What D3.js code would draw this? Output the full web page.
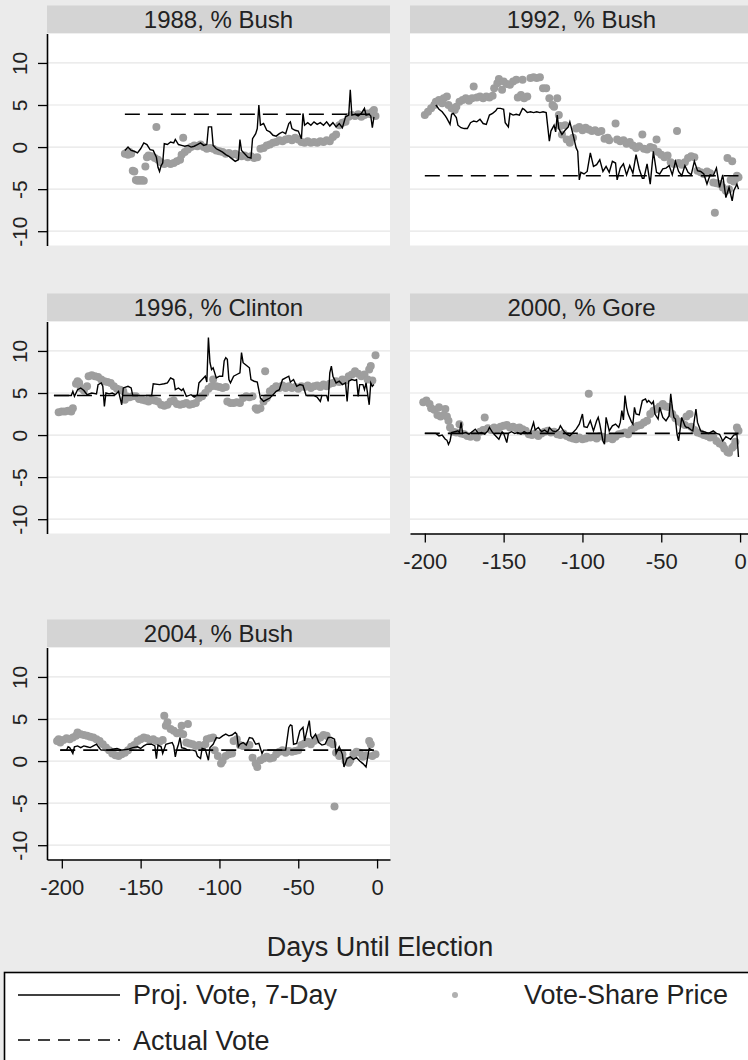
<!DOCTYPE html>
<meta charset="utf-8">
<script src="https://d3js.org/d3.v7.min.js"></script>
<style>
  body { margin: 0; background: #eaeaea; }
  svg { display: block; font-family: "Liberation Sans", Arial, sans-serif; }
</style>
<body>
<div id="chart"></div>
<script>
  // panel titles, actual vote (two-party share minus 50) and the days it spans
  var panelTitles = ["1988, % Bush", "1992, % Bush", "1996, % Clinton", "2000, % Gore", "2004, % Bush"];
  var actualVote = [3.9, -3.4, 4.7, 0.2, 1.3];
  var actualSpan = [[-160, -2], [-200, -1], [-205, -2], [-200, -1], [-201, -2]];
  var xTicks = [-200, -150, -100, -50, 0];
  var yTicks = [-10, -5, 0, 5, 10];

  // [day, value] : projected vote, 7-day
  var proj1988 = [[-160,-0.4],[-158,0.0],[-156,-0.4],[-154,-0.5],[-152,-0.7],[-150,-0.2],[-148,0.5],[-146,0.3],[-144,-0.3],[-142,-0.4],[-140,-1.2],[-139,-2.4],[-138,-2.9],[-137,-2.2],[-136,-1.9],[-135,0.4],[-133,0.3],[-131,0.6],[-129,0.5],[-128,0.9],[-126,0.3],[-124,0.2],[-122,0.1],[-120,0.2],[-118,0.0],[-116,0.1],[-114,0.3],[-112,0.5],[-110,0.2],[-108,0.3],[-107,2.4],[-105,2.4],[-104,0.2],[-102,-0.2],[-100,-0.4],[-98,-0.6],[-96,-0.9],[-94,-1.1],[-92,-1.4],[-90,-1.7],[-88,-1.5],[-87,0.9],[-86,-0.4],[-84,-0.8],[-82,-1.2],[-80,-1.3],[-79,1.0],[-77,1.6],[-76,2.2],[-75,5.0],[-74,2.6],[-72,2.8],[-70,2.0],[-68,1.8],[-66,1.4],[-64,1.3],[-62,1.6],[-60,1.8],[-58,1.6],[-56,2.8],[-55,3.0],[-54,2.2],[-52,2.0],[-50,1.9],[-48,1.0],[-47,4.0],[-46,2.6],[-44,2.9],[-42,2.6],[-40,3.0],[-38,2.7],[-36,2.9],[-34,2.6],[-32,3.0],[-30,2.5],[-28,2.9],[-26,2.4],[-24,2.8],[-22,2.3],[-20,3.6],[-18,3.8],[-17,6.8],[-16,3.8],[-14,3.9],[-12,3.7],[-10,4.0],[-8,4.6],[-7,3.8],[-5,3.9],[-4,3.7],[-3,2.3],[-2,3.6]];
  var proj1992 = [[-193,5.0],[-191,4.5],[-189,4.2],[-187,3.7],[-186,3.4],[-184,2.7],[-183,3.9],[-182,4.0],[-180,3.5],[-179,2.6],[-177,2.3],[-175,2.2],[-173,2.2],[-171,2.9],[-169,3.1],[-167,3.0],[-165,3.3],[-163,2.8],[-161,2.7],[-159,3.8],[-157,4.0],[-155,4.3],[-154,4.6],[-152,4.6],[-150,4.5],[-149,2.9],[-147,2.4],[-146,4.0],[-144,3.8],[-142,3.9],[-140,3.8],[-138,4.6],[-137,4.5],[-135,4.1],[-133,4.2],[-131,4.1],[-129,4.2],[-127,4.1],[-125,4.2],[-123,4.1],[-121,0.7],[-120,1.9],[-118,2.6],[-117,1.8],[-116,3.8],[-115,2.2],[-113,1.5],[-111,2.0],[-109,2.4],[-108,3.0],[-106,1.5],[-104,-0.1],[-103,-0.5],[-102,-3.9],[-101,-3.0],[-99,-3.2],[-97,-2.9],[-95,-0.7],[-93,-2.3],[-91,-2.1],[-89,-1.5],[-87,-2.9],[-85,-2.3],[-83,-3.0],[-81,-1.7],[-79,-1.9],[-78,-3.9],[-76,-2.5],[-74,-2.0],[-72,-3.3],[-70,-2.2],[-68,-3.1],[-66,-0.9],[-64,-2.6],[-62,-3.7],[-61,-3.7],[-59,-2.0],[-57,-4.4],[-55,-0.5],[-53,-3.0],[-51,-3.2],[-49,-2.6],[-47,-2.5],[-45,-2.2],[-43,-3.3],[-41,-1.7],[-39,-2.9],[-37,-3.4],[-35,-2.2],[-33,-3.0],[-31,-3.3],[-29,-1.7],[-27,-2.8],[-25,-2.9],[-23,-3.2],[-21,-4.4],[-19,-3.3],[-17,-3.4],[-15,-2.5],[-13,-4.8],[-11,-3.3],[-9,-6.0],[-7,-4.8],[-5,-6.4],[-4,-5.2],[-2,-4.4],[-1,-5.0]];
  var proj1996 = [[-205,4.7],[-194,4.7],[-193,5.2],[-192,4.6],[-190,5.4],[-188,5.6],[-186,5.3],[-184,4.8],[-181,5.0],[-178,4.9],[-177,6.0],[-175,6.2],[-174,5.8],[-173,3.4],[-172,5.0],[-170,4.9],[-168,5.0],[-166,4.8],[-164,5.2],[-162,3.6],[-161,5.6],[-158,5.8],[-156,5.6],[-155,4.7],[-143,4.7],[-142,6.1],[-138,6.0],[-135,6.1],[-133,6.2],[-131,6.8],[-129,6.6],[-128,5.4],[-126,5.6],[-124,5.3],[-123,5.5],[-121,4.6],[-118,4.8],[-116,4.5],[-114,4.8],[-113,6.2],[-111,6.6],[-109,7.0],[-108,6.3],[-107,11.6],[-106,8.6],[-105,7.8],[-104,8.0],[-102,6.8],[-100,7.0],[-98,7.0],[-97,8.8],[-96,9.2],[-95,9.0],[-94,6.6],[-93,6.2],[-91,7.0],[-89,7.2],[-87,7.4],[-86,9.8],[-85,8.6],[-83,8.3],[-81,8.0],[-80,6.6],[-78,6.4],[-76,6.3],[-74,4.4],[-72,4.0],[-70,4.2],[-68,4.4],[-66,4.8],[-64,5.2],[-62,5.4],[-60,6.6],[-58,6.8],[-56,7.0],[-55,6.3],[-53,6.6],[-51,5.8],[-49,6.0],[-47,5.9],[-45,4.7],[-40,4.7],[-38,4.5],[-36,4.0],[-35,4.7],[-32,4.7],[-31,4.0],[-30,7.4],[-29,8.2],[-28,7.0],[-26,6.2],[-24,6.4],[-22,6.0],[-20,6.2],[-19,4.0],[-18,6.4],[-16,6.6],[-14,6.5],[-13,6.6],[-12,4.6],[-11,6.0],[-9,6.0],[-8,5.4],[-7,6.2],[-5,3.6],[-4,6.2],[-3,5.8],[-2,6.0]];
  var proj2000 = [[-200,0.2],[-193,0.2],[-191,-0.1],[-189,0.0],[-187,-0.5],[-186,-0.6],[-185,-1.1],[-184,-0.7],[-183,0.3],[-181,0.4],[-179,0.5],[-178,0.3],[-177,1.5],[-176,0.2],[-174,0.3],[-172,0.1],[-170,0.4],[-168,0.7],[-166,0.2],[-164,0.3],[-162,0.1],[-160,0.5],[-159,0.9],[-157,0.3],[-155,-0.1],[-153,-0.5],[-151,0.4],[-150,0.2],[-148,-0.9],[-147,0.2],[-145,0.4],[-143,0.2],[-141,0.3],[-139,0.1],[-137,0.4],[-135,0.2],[-133,0.3],[-131,1.5],[-130,0.6],[-128,0.9],[-126,0.4],[-124,0.6],[-122,0.3],[-121,0.9],[-119,0.5],[-117,0.4],[-115,0.7],[-114,1.1],[-112,0.5],[-110,0.1],[-108,-0.1],[-106,0.3],[-104,0.7],[-102,1.3],[-100,2.5],[-99,1.0],[-97,0.9],[-95,1.7],[-93,0.5],[-91,1.7],[-90,2.1],[-89,1.3],[-87,-0.7],[-86,-1.1],[-85,2.1],[-83,0.5],[-81,1.1],[-79,1.3],[-77,0.9],[-76,1.5],[-75,2.9],[-74,1.8],[-73,4.7],[-72,3.3],[-71,2.5],[-69,1.6],[-68,1.3],[-67,3.3],[-66,2.5],[-64,2.4],[-62,4.1],[-60,4.3],[-59,3.9],[-58,4.1],[-56,3.7],[-55,4.0],[-54,2.5],[-52,1.9],[-51,3.3],[-49,2.1],[-47,1.7],[-45,2.3],[-44,4.9],[-43,3.3],[-42,2.1],[-41,1.9],[-40,0.1],[-39,-0.7],[-37,2.1],[-35,1.1],[-34,0.9],[-33,0.9],[-31,0.6],[-30,0.5],[-28,3.1],[-27,1.5],[-25,0.5],[-23,0.4],[-20,0.2],[-17,0.5],[-15,0.2],[-13,0.1],[-11,-0.7],[-9,-0.2],[-6,-0.5],[-4,0.0],[-2,0.1],[-1,-2.6]];
  var proj2004 = [[-201,1.3],[-197,1.3],[-196,1.7],[-195,1.6],[-193,0.9],[-192,1.7],[-190,1.8],[-188,1.6],[-186,1.8],[-184,1.7],[-182,1.6],[-180,1.8],[-178,2.0],[-176,1.5],[-175,1.3],[-170,1.3],[-168,1.4],[-165,1.5],[-162,1.3],[-158,1.4],[-155,1.6],[-152,1.7],[-150,1.5],[-148,1.8],[-146,2.0],[-143,2.0],[-141,1.8],[-140,0.3],[-139,1.9],[-137,1.7],[-136,0.9],[-134,2.0],[-132,2.1],[-130,2.2],[-129,1.8],[-128,0.5],[-127,1.4],[-126,2.0],[-125,2.8],[-124,1.6],[-122,1.5],[-120,1.3],[-117,1.3],[-115,1.2],[-114,0.6],[-112,0.3],[-111,1.5],[-109,1.4],[-107,0.1],[-106,1.6],[-104,2.0],[-102,2.8],[-100,2.7],[-98,3.0],[-96,3.2],[-94,3.0],[-92,3.1],[-90,3.4],[-89,3.2],[-88,1.7],[-87,2.0],[-85,2.2],[-83,1.9],[-81,2.8],[-79,2.7],[-77,2.0],[-75,2.1],[-73,0.9],[-72,1.3],[-58,1.3],[-56,4.0],[-55,4.3],[-54,4.2],[-53,2.0],[-51,2.1],[-49,3.6],[-48,3.8],[-47,4.0],[-46,2.4],[-45,3.2],[-43,4.8],[-42,3.0],[-41,2.7],[-39,3.2],[-37,2.2],[-35,1.9],[-33,2.0],[-31,2.8],[-29,2.8],[-27,2.6],[-26,0.9],[-24,1.7],[-22,0.8],[-21,-0.7],[-19,0.3],[-17,0.5],[-15,0.2],[-13,0.4],[-11,0.0],[-9,-0.3],[-7,-0.7],[-5,1.5],[-3,1.3]];

  // [day, value] : vote-share price
  var price1988 = [[-160,-0.8],[-159,-0.7],[-158,-0.9],[-157,-0.6],[-156,-0.8],[-155,-2.8],[-154,-2.9],[-153,-3.9],[-152,-4.0],[-151,-3.9],[-150,-4.0],[-149,-3.9],[-148,-4.0],[-147,-2.3],[-146,-1.2],[-145,-1.0],[-143,-1.1],[-141,-1.3],[-140,2.4],[-139,-1.5],[-137,-1.8],[-135,-2.0],[-133,-1.9],[-131,-2.0],[-129,-1.9],[-127,-1.7],[-125,-1.5],[-124,-0.9],[-123,1.1],[-122,-0.6],[-120,-0.3],[-118,0.0],[-116,0.2],[-114,0.1],[-112,0.3],[-110,0.0],[-108,-0.2],[-106,-0.1],[-104,-0.2],[-102,-0.4],[-100,-0.5],[-98,-0.6],[-96,-0.8],[-94,-0.7],[-92,-0.9],[-90,-0.8],[-88,-1.0],[-86,-1.1],[-84,-1.0],[-82,-1.2],[-80,-1.1],[-78,-1.3],[-76,-1.2],[-74,-0.2],[-72,-0.1],[-70,0.2],[-68,0.3],[-66,0.5],[-64,0.6],[-62,0.8],[-60,0.7],[-58,0.9],[-56,1.0],[-54,0.8],[-52,1.1],[-50,0.9],[-48,0.6],[-46,0.5],[-44,0.7],[-42,0.5],[-40,0.6],[-38,0.5],[-36,0.7],[-34,0.6],[-32,0.8],[-30,0.7],[-28,1.2],[-26,1.5],[-24,2.6],[-22,2.9],[-20,3.0],[-18,3.6],[-16,3.8],[-14,3.7],[-12,3.9],[-10,3.6],[-8,3.8],[-6,4.0],[-4,3.9],[-3,4.2],[-2,4.4],[-1,3.7]];
  var price1992 = [[-200,3.8],[-198,4.2],[-196,4.6],[-194,5.0],[-193,5.4],[-191,5.6],[-189,5.2],[-188,5.8],[-186,6.0],[-185,5.0],[-183,4.6],[-181,4.4],[-180,4.8],[-178,5.4],[-176,5.6],[-174,5.8],[-172,5.5],[-170,5.8],[-169,7.2],[-167,5.9],[-165,6.0],[-163,5.8],[-161,6.0],[-159,5.9],[-157,6.1],[-156,7.0],[-154,7.6],[-153,8.1],[-151,6.8],[-150,7.8],[-148,7.5],[-146,7.4],[-144,7.8],[-142,8.0],[-141,5.9],[-139,6.2],[-138,8.0],[-137,5.8],[-135,6.0],[-133,8.2],[-131,8.3],[-129,8.2],[-127,8.3],[-125,7.0],[-123,7.0],[-121,5.8],[-119,5.0],[-118,4.8],[-116,5.8],[-115,3.8],[-114,2.5],[-113,1.5],[-111,2.6],[-110,0.9],[-108,0.5],[-106,1.1],[-104,2.2],[-102,2.4],[-100,2.0],[-98,2.3],[-96,2.1],[-94,1.9],[-92,2.0],[-90,1.8],[-88,1.9],[-86,1.0],[-84,1.1],[-83,0.8],[-79,2.8],[-78,0.9],[-76,0.7],[-74,0.8],[-72,0.4],[-70,0.6],[-68,0.2],[-66,-0.1],[-64,0.1],[-62,1.5],[-61,-0.2],[-59,-0.3],[-57,0.0],[-55,-0.1],[-53,0.9],[-52,-0.6],[-50,-0.9],[-48,-1.2],[-46,-1.0],[-44,-1.8],[-42,-2.0],[-40,1.9],[-39,-1.9],[-37,-2.1],[-35,-1.8],[-33,-1.3],[-31,-1.1],[-29,-1.2],[-27,-2.8],[-25,-3.0],[-23,-3.2],[-21,-2.9],[-19,-3.1],[-17,-4.2],[-16,-7.8],[-15,-4.3],[-13,-4.4],[-11,-4.8],[-9,-5.2],[-8,-1.3],[-7,-5.0],[-6,-3.9],[-5,-1.7],[-4,-4.1],[-3,-3.8],[-2,-3.4],[-1,-3.6]];
  var price1996 = [[-202,2.7],[-200,2.8],[-198,2.8],[-196,2.9],[-194,2.8],[-193,3.2],[-191,6.1],[-190,6.4],[-189,6.2],[-188,5.6],[-186,5.3],[-184,5.8],[-183,7.0],[-181,7.1],[-179,7.0],[-177,6.9],[-175,6.6],[-173,6.4],[-171,6.3],[-169,6.2],[-167,5.8],[-165,5.5],[-163,5.4],[-161,5.2],[-160,4.2],[-159,4.6],[-157,4.5],[-155,4.6],[-153,4.6],[-151,4.3],[-149,4.2],[-147,4.1],[-145,4.0],[-143,4.2],[-141,4.1],[-139,4.0],[-137,3.6],[-135,3.5],[-133,3.6],[-131,4.0],[-129,4.1],[-127,3.7],[-125,3.6],[-123,3.7],[-121,3.8],[-119,3.6],[-117,3.7],[-115,3.8],[-113,4.4],[-111,4.6],[-109,5.0],[-107,5.5],[-105,5.8],[-104,6.6],[-102,5.8],[-100,5.7],[-98,5.6],[-96,5.7],[-95,4.0],[-93,3.8],[-91,3.8],[-89,3.9],[-87,3.8],[-85,4.4],[-83,4.6],[-81,4.5],[-79,4.6],[-77,3.2],[-76,3.0],[-74,3.2],[-72,4.0],[-71,7.6],[-70,4.4],[-68,5.2],[-66,5.5],[-64,5.8],[-62,5.6],[-60,5.9],[-58,5.6],[-56,5.8],[-54,5.6],[-52,5.7],[-50,5.5],[-48,5.8],[-46,5.7],[-44,5.9],[-42,5.6],[-40,5.8],[-38,5.9],[-36,5.7],[-34,6.0],[-32,5.8],[-30,6.1],[-28,6.2],[-26,6.4],[-24,6.3],[-22,6.6],[-20,6.5],[-18,7.0],[-16,7.2],[-14,7.6],[-12,7.3],[-10,7.0],[-8,7.2],[-6,6.6],[-5,7.8],[-4,8.2],[-3,6.5],[-1,9.5]];
  var price2000 = [[-201,3.9],[-199,4.1],[-197,3.7],[-196,3.2],[-194,3.0],[-192,2.4],[-191,3.3],[-190,2.2],[-188,2.4],[-187,3.1],[-186,2.2],[-185,1.7],[-184,0.9],[-182,0.4],[-180,0.3],[-178,1.3],[-177,0.2],[-175,0.1],[-173,-0.1],[-171,-0.2],[-169,0.0],[-167,-0.3],[-165,0.4],[-163,0.6],[-162,2.1],[-160,0.8],[-158,0.6],[-156,0.9],[-154,0.7],[-152,1.0],[-150,1.1],[-148,1.2],[-146,0.9],[-144,1.0],[-142,0.8],[-140,0.9],[-138,0.7],[-136,0.5],[-134,0.1],[-132,0.0],[-130,0.2],[-128,-0.1],[-126,0.2],[-124,0.4],[-122,0.5],[-120,0.3],[-118,0.4],[-116,0.1],[-114,0.0],[-112,0.2],[-110,-0.1],[-108,-0.3],[-106,-0.4],[-104,-0.5],[-102,-0.3],[-100,-0.5],[-98,-0.4],[-96,4.9],[-95,-0.3],[-93,-0.2],[-91,-0.4],[-89,-0.1],[-87,-0.2],[-85,-0.4],[-83,-0.3],[-81,-0.5],[-79,-0.2],[-77,0.1],[-75,0.2],[-73,0.3],[-71,0.1],[-69,0.6],[-67,0.9],[-65,1.1],[-63,1.2],[-61,1.5],[-59,1.7],[-57,2.5],[-55,2.9],[-53,3.1],[-51,3.4],[-49,3.7],[-47,3.4],[-45,3.3],[-43,2.5],[-41,2.0],[-39,1.6],[-37,1.4],[-35,1.2],[-34,2.2],[-32,2.5],[-31,1.0],[-29,0.6],[-27,0.3],[-25,0.2],[-23,0.0],[-21,-0.1],[-19,-0.3],[-17,-0.2],[-15,-0.7],[-13,-1.0],[-11,-1.2],[-10,-1.6],[-8,-2.0],[-7,-2.1],[-5,-1.5],[-4,-1.3],[-3,-0.8],[-2,0.9],[-1,0.5]];
  var price2004 = [[-203,2.4],[-202,2.6],[-201,2.2],[-199,2.5],[-197,2.7],[-195,2.6],[-193,2.8],[-191,3.0],[-190,3.4],[-188,3.2],[-186,3.1],[-184,3.0],[-182,2.9],[-180,2.8],[-178,2.6],[-176,2.4],[-174,2.0],[-172,1.6],[-170,1.3],[-168,0.9],[-166,0.7],[-164,0.6],[-162,0.8],[-160,1.0],[-158,1.3],[-156,1.7],[-154,1.9],[-152,2.4],[-150,2.6],[-148,2.8],[-146,2.7],[-144,2.5],[-142,2.6],[-140,2.4],[-138,2.3],[-136,2.5],[-135,5.4],[-134,4.2],[-133,4.6],[-131,3.8],[-129,3.6],[-127,3.3],[-125,3.4],[-124,4.2],[-123,3.2],[-121,2.2],[-120,4.4],[-119,2.1],[-117,2.0],[-115,1.8],[-113,1.9],[-111,1.7],[-109,2.0],[-108,2.6],[-106,2.7],[-104,2.8],[-103,1.3],[-101,0.6],[-99,-0.3],[-98,0.0],[-96,0.6],[-94,0.8],[-92,0.9],[-91,2.4],[-89,2.6],[-87,1.9],[-85,1.8],[-83,1.7],[-81,1.9],[-79,0.4],[-77,-0.3],[-76,-0.7],[-74,0.1],[-72,0.3],[-70,0.5],[-68,0.3],[-66,0.4],[-64,0.8],[-62,1.1],[-60,1.3],[-58,1.0],[-56,1.2],[-54,1.1],[-52,1.2],[-50,1.3],[-48,1.9],[-46,2.1],[-44,2.3],[-42,2.0],[-40,2.4],[-38,2.6],[-36,2.8],[-34,3.1],[-32,3.0],[-30,2.2],[-28,2.0],[-27,-5.4],[-26,1.0],[-24,0.6],[-22,0.8],[-20,0.0],[-18,-0.2],[-17,0.1],[-15,0.8],[-13,1.1],[-11,1.0],[-9,0.5],[-7,0.7],[-5,2.4],[-4,2.0],[-3,0.6],[-1,0.8]];

  var projSeries = [proj1988, proj1992, proj1996, proj2000, proj2004];
  var priceSeries = [price1988, price1992, price1996, price2000, price2004];

  var width = 748, height = 1060;
  var plotW = 343, plotH = 212, stripH = 28;
  var colX = [47, 410];
  var rowY = [33.5, 321.5, 647.5];
  var cells = [[0, 0], [1, 0], [0, 1], [1, 1], [0, 2]];
  var withXAxis = [false, false, false, true, true];

  var svg = d3.select("#chart")
    .append("svg")
      .attr("width", width)
      .attr("height", height);

  svg.append("rect")
    .attr("width", width)
    .attr("height", height)
    .attr("fill", "#ebebeb");

  var x = d3.scaleLinear().domain([-209.4, 8.2]).range([0, plotW]);
  var y = d3.scaleLinear().domain([-11.7, 13.5]).range([plotH, 0]);

  var line = d3.line()
    .x(d => x(d[0]))
    .y(d => y(d[1]));

  panelTitles.forEach(function(title, i) {
    var col = cells[i][0], row = cells[i][1];
    var g = svg.append("g")
      .attr("transform", "translate(" + colX[col] + "," + rowY[row] + ")");

    // title strip
    g.append("rect")
      .attr("y", -stripH)
      .attr("width", plotW)
      .attr("height", stripH)
      .attr("fill", "#d4d4d4");
    g.append("text")
      .attr("x", plotW / 2)
      .attr("y", -6)
      .attr("text-anchor", "middle")
      .style("font-size", "24px")
      .attr("fill", "#222")
      .text(title);

    g.append("rect")
      .attr("width", plotW)
      .attr("height", plotH)
      .attr("fill", "white");

    g.selectAll("line.grid")
      .data(yTicks)
      .enter()
      .append("line")
      .attr("class", "grid")
      .attr("x1", 0)
      .attr("x2", plotW)
      .attr("y1", d => y(d))
      .attr("y2", d => y(d))
      .attr("stroke", "#e6e6e6")
      .attr("stroke-width", 1.2);

    g.append("clipPath")
      .attr("id", "clip" + i)
      .append("rect")
      .attr("width", plotW)
      .attr("height", plotH);

    var inner = g.append("g").attr("clip-path", "url(#clip" + i + ")");

    inner.selectAll("circle")
      .data(priceSeries[i])
      .enter()
      .append("circle")
      .attr("cx", d => x(d[0]))
      .attr("cy", d => y(d[1]))
      .attr("r", 4)
      .attr("fill", "#9e9e9e");

    inner.append("path")
      .datum(projSeries[i])
      .attr("d", line)
      .attr("fill", "none")
      .attr("stroke", "black")
      .attr("stroke-width", 1.4)
      .attr("stroke-linejoin", "miter");

    inner.append("path")
      .datum(actualSpan[i].map(d => [d, actualVote[i]]))
      .attr("d", line)
      .attr("fill", "none")
      .attr("stroke", "black")
      .attr("stroke-width", 1.6)
      .attr("stroke-dasharray", "15,8");

    if (col === 0) {
      var ya = g.append("g")
        .call(d3.axisLeft(y).tickValues(yTicks).tickSize(9).tickSizeOuter(0).tickFormat(d => String(d)));
      ya.select(".domain").attr("stroke-width", 1.6);
      ya.selectAll(".tick line").attr("stroke-width", 1.3);
      ya.selectAll(".tick text")
        .attr("x", null)
        .attr("dy", null)
        .attr("text-anchor", "middle")
        .attr("transform", "translate(-20,0) rotate(-90)")
        .style("font-size", "21px")
        .style("font-family", "'Liberation Sans', Arial, sans-serif")
        .attr("fill", "#222");
    }

    if (withXAxis[i]) {
      var xa = g.append("g")
        .attr("transform", "translate(0," + plotH + ")")
        .call(d3.axisBottom(x).tickValues(xTicks).tickSize(9).tickSizeOuter(0).tickFormat(d => String(d)));
      xa.select(".domain").attr("stroke-width", 1.6);
      xa.selectAll(".tick line").attr("stroke-width", 1.3);
      xa.selectAll(".tick text")
        .attr("y", 35)
        .attr("dy", null)
        .style("font-size", "22px")
        .style("font-family", "'Liberation Sans', Arial, sans-serif")
        .attr("fill", "#222");
    }
  });

  svg.append("text")
    .attr("x", 380)
    .attr("y", 956)
    .attr("text-anchor", "middle")
    .style("font-size", "27px")
    .attr("fill", "#222")
    .text("Days Until Election");

  // legend
  var legend = svg.append("g");
  legend.append("rect")
    .attr("x", 4.5)
    .attr("y", 972.5)
    .attr("width", 800)
    .attr("height", 120)
    .attr("fill", "white")
    .attr("stroke", "black")
    .attr("stroke-width", 1.6);

  legend.append("line")
    .attr("x1", 18).attr("x2", 120)
    .attr("y1", 995).attr("y2", 995)
    .attr("stroke", "black")
    .attr("stroke-width", 1.5);
  legend.append("text")
    .attr("x", 133).attr("y", 1004)
    .style("font-size", "27px")
    .attr("fill", "#222")
    .text("Proj. Vote, 7-Day");

  legend.append("circle")
    .attr("cx", 455).attr("cy", 995)
    .attr("r", 3)
    .attr("fill", "#b0b0b0");
  legend.append("text")
    .attr("x", 524).attr("y", 1004)
    .style("font-size", "27px")
    .attr("fill", "#222")
    .text("Vote-Share Price");

  legend.append("line")
    .attr("x1", 18).attr("x2", 120)
    .attr("y1", 1040).attr("y2", 1040)
    .attr("stroke", "black")
    .attr("stroke-width", 1.5)
    .attr("stroke-dasharray", "12,8");
  legend.append("text")
    .attr("x", 133).attr("y", 1050)
    .style("font-size", "27px")
    .attr("fill", "#222")
    .text("Actual Vote");
</script>
</body>
